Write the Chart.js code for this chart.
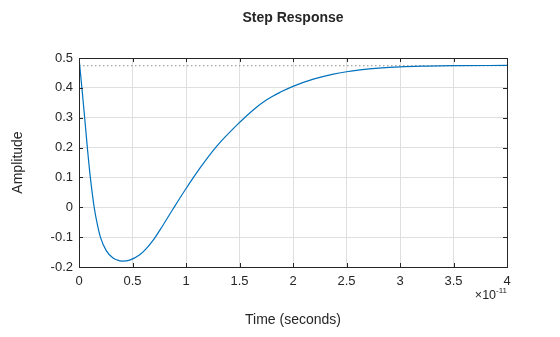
<!DOCTYPE html>
<html>
<head>
<meta charset="utf-8">
<script src="https://cdn.jsdelivr.net/npm/chart.js@4/dist/chart.umd.min.js"></script>
<style>
  html, body { margin: 0; padding: 0; background: #ffffff; }
  #wrap { width: 560px; height: 337px; }
</style>
</head>
<body>
<div id="wrap"><canvas id="step-chart" width="560" height="337"></canvas></div>
<script>
// time axis is stored in units of 10^-11 s, see timeExponent
var timeExponent = -11;
var timeValues = [0, 0.027, 0.053, 0.078, 0.106, 0.142, 0.17, 0.2, 0.256, 0.318, 0.36, 0.4,
    0.474, 0.568, 0.62, 0.69, 0.785, 0.88, 0.99, 1.13, 1.286, 1.5, 1.628, 1.754, 1.879, 2.0,
    2.19, 2.377, 2.5, 2.627, 2.8, 3.0, 3.25, 3.5, 4.0];
var amplitudeValues = [0.5, 0.4, 0.3, 0.2, 0.1, 0, -0.055, -0.1, -0.146, -0.17, -0.177, -0.18,
    -0.177, -0.159, -0.142, -0.112, -0.06, -0.005, 0.057, 0.131, 0.204, 0.284, 0.326, 0.36,
    0.385, 0.405, 0.429, 0.446, 0.454, 0.46, 0.466, 0.4705, 0.473, 0.4745, 0.475];
var steadyState = 0.474;

var xRange = [0, 4];
var yRange = [-0.2, 0.5];
var xStep = 0.5;
var yStep = 0.1;

var chartTitle = 'Step Response';
var xTitle = 'Time (seconds)';
var yTitle = 'Amplitude';

var inkColor = '#262626';
var gridColor = '#dfdfdf';
var lineColor = '#0072bd';
var fontFamily = '"Liberation Sans", Arial, Helvetica, sans-serif';

function fmtTick(value){
    return String(Number(value.toFixed(2)));
}

// box, inward tick marks, title and the exponent label
var axesDecor = {
    id: 'axesDecor',
    afterDraw: function(chart){
        var ctx = chart.ctx;
        var area = chart.chartArea;
        var xs = chart.scales.x, ys = chart.scales.y;
        var tickLen = 4;
        ctx.save();
        ctx.strokeStyle = inkColor;
        ctx.lineWidth = 1;
        ctx.beginPath();
        xs.ticks.forEach(function(t){
            var px = Math.round(xs.getPixelForValue(t.value)) + 0.5;
            ctx.moveTo(px, area.bottom); ctx.lineTo(px, area.bottom - tickLen);
            ctx.moveTo(px, area.top); ctx.lineTo(px, area.top + tickLen);
        });
        ys.ticks.forEach(function(t){
            var py = Math.round(ys.getPixelForValue(t.value)) + 0.5;
            ctx.moveTo(area.left, py); ctx.lineTo(area.left + tickLen, py);
            ctx.moveTo(area.right, py); ctx.lineTo(area.right - tickLen, py);
        });
        ctx.stroke();
        ctx.strokeRect(Math.round(area.left) + 0.5, Math.round(area.top) + 0.5,
            Math.round(area.right - area.left), Math.round(area.bottom - area.top));

        ctx.fillStyle = inkColor;
        ctx.textBaseline = 'middle';
        ctx.textAlign = 'center';
        ctx.font = 'bold 14px ' + fontFamily;
        ctx.fillText(chartTitle, (area.left + area.right) / 2, 18);

        // ×10^-11 under the right end of the time axis
        var exp = String(timeExponent);
        ctx.font = '8px ' + fontFamily;
        var expW = ctx.measureText(exp).width;
        ctx.textAlign = 'right';
        ctx.fillText(exp, area.right, 291);
        ctx.font = '12.5px ' + fontFamily;
        ctx.fillText('\u00d710', area.right - expW, 295.5);
        ctx.restore();
    }
};

var points = timeValues.map(function(t, i){ return { x: t, y: amplitudeValues[i] }; });

new Chart(document.getElementById('step-chart'), {
    type: 'line',
    data: {
        datasets: [{
            data: points,
            borderColor: lineColor,
            borderWidth: 1.2,
            pointRadius: 0,
            cubicInterpolationMode: 'monotone',
            fill: false
        }, {
            data: [{ x: xRange[0], y: steadyState }, { x: xRange[1], y: steadyState }],
            borderColor: '#8c8c8c',
            borderWidth: 1,
            borderDash: [1.5, 2.5],
            pointRadius: 0,
            fill: false
        }]
    },
    options: {
        responsive: false,
        animation: false,
        layout: { padding: { left: 0, right: 53, top: 58, bottom: 0 } },
        plugins: {
            legend: { display: false },
            tooltip: { enabled: false },
            title: { display: false }
        },
        scales: {
            x: {
                type: 'linear',
                min: xRange[0], max: xRange[1],
                border: { display: false },
                grid: { color: gridColor, drawTicks: false },
                ticks: {
                    stepSize: xStep, color: inkColor, padding: 7,
                    font: { family: fontFamily, size: 13 },
                    maxRotation: 0, autoSkip: false,
                    callback: fmtTick
                },
                title: {
                    display: true, text: xTitle, color: inkColor,
                    font: { family: fontFamily, size: 14 },
                    padding: { bottom: 8.6 }
                },
                afterFit: function(scale){ scale.height = 70; }
            },
            y: {
                min: yRange[0], max: yRange[1],
                border: { display: false },
                grid: { color: gridColor, drawTicks: false },
                ticks: {
                    stepSize: yStep, color: inkColor, padding: 6,
                    font: { family: fontFamily, size: 13 },
                    autoSkip: false,
                    callback: fmtTick
                },
                title: {
                    display: true, text: yTitle, color: inkColor,
                    font: { family: fontFamily, size: 14 },
                    padding: { top: 9.6 }
                },
                afterFit: function(scale){ scale.width = 79; }
            }
        }
    },
    plugins: [axesDecor]
});
</script>
</body>
</html>
